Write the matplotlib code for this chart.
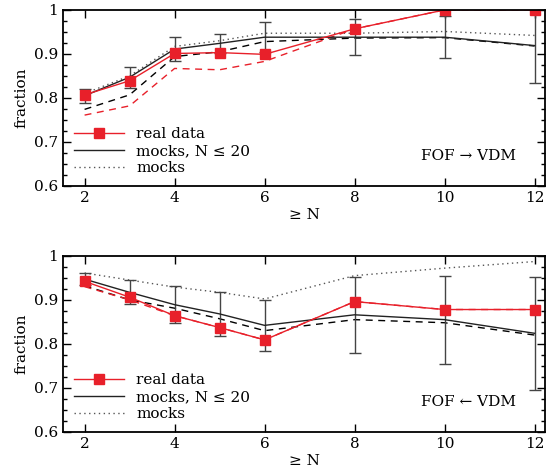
import matplotlib
matplotlib.use('Agg')
import matplotlib.pyplot as plt
from matplotlib.ticker import MultipleLocator, FuncFormatter

# data
N = [2, 3, 4, 5, 6, 8, 10, 12]

# FOF -> VDM
top_real = [0.807, 0.839, 0.901, 0.903, 0.899, 0.957, 1.0, 1.0]
top_real_dash = [0.761, 0.782, 0.867, 0.864, 0.883, 0.957, 1.0, 1.0]
top_mock20 = [0.805, 0.847, 0.911, 0.924, 0.938, 0.938, 0.938, 0.919]
top_mock20_err = [0.016, 0.024, 0.028, 0.022, 0.034, 0.041, 0.048, 0.086]
top_mock20_dash = [0.774, 0.807, 0.894, 0.905, 0.928, 0.936, 0.937, 0.918]
top_mocks = [0.810, 0.850, 0.917, 0.930, 0.947, 0.947, 0.951, 0.942]

# FOF <- VDM
bot_real = [0.942, 0.906, 0.864, 0.837, 0.809, 0.896, 0.878, 0.878]
bot_real_dash = [0.930, 0.900, 0.864, 0.837, 0.809, 0.896, 0.878, 0.878]
bot_mock20 = [0.947, 0.917, 0.889, 0.868, 0.842, 0.866, 0.855, 0.824]
bot_mock20_err = [0.014, 0.027, 0.042, 0.050, 0.058, 0.087, 0.100, 0.129]
bot_mock20_dash = [0.932, 0.900, 0.881, 0.857, 0.830, 0.855, 0.848, 0.820]
bot_mocks = [0.961, 0.945, 0.929, 0.917, 0.902, 0.955, 0.972, 0.987]

red = '#e8202a'

plt.rcParams['font.family'] = ['DejaVu Serif']
plt.rcParams['font.size'] = 11

fig = plt.figure(figsize=(5.6, 4.72), dpi=100)
ax1 = fig.add_axes([0.1125, 0.606, 0.8605, 0.373])
ax2 = fig.add_axes([0.1125, 0.085, 0.8605, 0.373])


def panel(ax, real, real_dash, m20, m20err, m20dash, mocks, label):
    l_mocks, = ax.plot(N, mocks, color='#555555', lw=1, ls=(0, (1, 2.5)))
    ax.plot(N, m20dash, color='black', lw=1, ls=(0, (5, 4)))
    ax.plot(N, real_dash, color=red, lw=1, ls=(0, (5, 4)))
    ax.errorbar(N, m20, yerr=m20err, fmt='none', capsize=4,
                elinewidth=1, ecolor='#444444')
    l_m20, = ax.plot(N, m20, color='#222222', lw=1)
    l_real, = ax.plot(N, real, color=red, lw=1, marker='s', ms=7, mec=red, mfc=red)
    ax.set_xlim(1.52, 12.23)
    ax.set_ylim(0.6, 1.0)
    ax.xaxis.set_major_locator(MultipleLocator(2))
    ax.yaxis.set_major_locator(MultipleLocator(0.1))
    ax.yaxis.set_minor_locator(MultipleLocator(0.025))
    ax.yaxis.set_major_formatter(FuncFormatter(lambda v, p: '1' if abs(v - 1) < 1e-6 else '%.1f' % v))
    ax.tick_params(which='both', direction='in', top=True, right=True, width=1)
    ax.tick_params(which='major', length=6)
    ax.tick_params(which='minor', length=3)
    for s in ax.spines.values():
        s.set_linewidth(1.3)
    ax.set_ylabel('fraction')
    ax.set_xlabel('≥ N', labelpad=2)
    ax.legend([l_real, l_m20, l_mocks], ['real data', 'mocks, N ≤ 20', 'mocks'],
              loc='lower left', frameon=False, handlelength=3.3, borderaxespad=0.3,
              labelspacing=0.2, bbox_to_anchor=(0.0, 0.0))
    ax.text(0.94, 0.17, label, transform=ax.transAxes, ha='right', va='center')


panel(ax1, top_real, top_real_dash, top_mock20, top_mock20_err, top_mock20_dash,
      top_mocks, 'FOF → VDM')
panel(ax2, bot_real, bot_real_dash, bot_mock20, bot_mock20_err, bot_mock20_dash,
      bot_mocks, 'FOF ← VDM')

fig.savefig('out.png', dpi=100)
